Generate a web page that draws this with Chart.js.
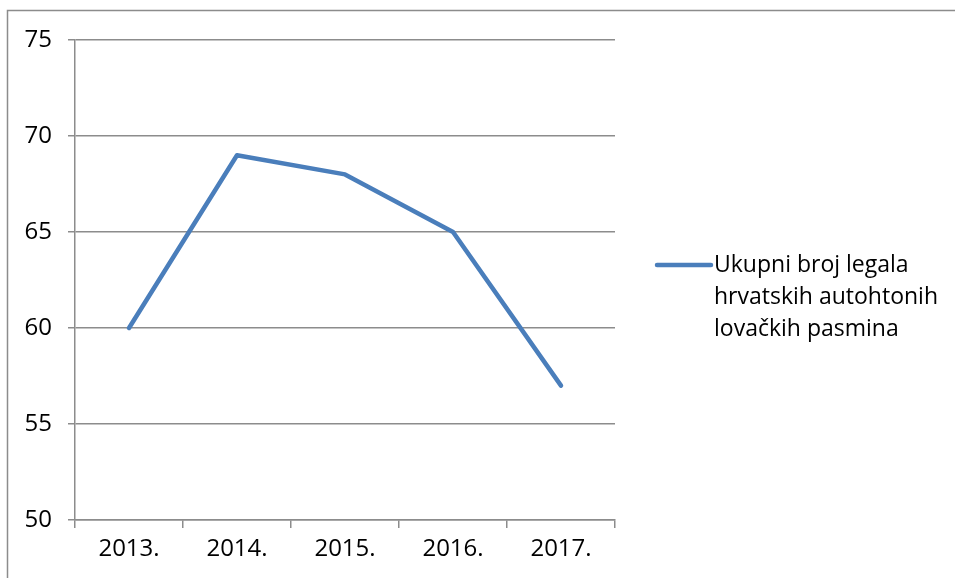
<!DOCTYPE html>
<html>
<head>
<meta charset="utf-8">
<script src="https://cdn.jsdelivr.net/npm/chart.js@4/dist/chart.umd.min.js"></script>
<style>
  html, body { margin: 0; padding: 0; background: #fff; }
  #wrap { width: 955px; height: 578px; }
</style>
</head>
<body>
<div id="wrap"><canvas id="myChart" width="955" height="578"></canvas></div>
<script>
var years = ['2013.', '2014.', '2015.', '2016.', '2017.'];
var litters = [60, 69, 68, 65, 57];
var seriesName = ['Ukupni broj legala', 'hrvatskih autohtonih', 'lovačkih pasmina'];
var yTicks = [50, 55, 60, 65, 70, 75];

var gray = '#8c8c8c';
var blue = '#4a7ebb';
var font = '"Open Sans", "Noto Sans", sans-serif';

// frame around the chart + legend drawn beside the plot
var extras = {
  id: 'extras',
  beforeDraw: function(chart) {
    var ctx = chart.ctx;
    ctx.save();
    ctx.strokeStyle = gray;
    ctx.lineWidth = 1.5;
    ctx.strokeRect(7.5, 10.5, 1200, 1200);
    ctx.restore();
  },
  afterDraw: function(chart) {
    var ctx = chart.ctx;
    ctx.save();
    ctx.strokeStyle = blue;
    ctx.lineWidth = 4.5;
    ctx.lineCap = 'round';
    ctx.beginPath();
    ctx.moveTo(657, 265);
    ctx.lineTo(711, 265);
    ctx.stroke();
    ctx.fillStyle = '#000';
    ctx.font = '23px ' + font;
    ctx.textBaseline = 'middle';
    for (var i = 0; i < seriesName.length; i++) {
      ctx.fillText(seriesName[i], 714, 265 + i * 32);
    }
    ctx.restore();
  }
};

var ctx = document.getElementById('myChart').getContext('2d');
var myChart = new Chart(ctx, {
  type: 'line',
  data: {
    labels: years,
    datasets: [{
      label: seriesName.join(' '),
      data: litters,
      borderColor: blue,
      borderWidth: 4.5,
      pointRadius: 0,
      tension: 0,
      borderCapStyle: 'round',
      borderJoinStyle: 'round'
    }]
  },
  options: {
    responsive: false,
    animation: false,
    layout: { padding: { top: 40, right: 340, left: 0, bottom: 0 } },
    plugins: { legend: { display: false }, tooltip: { enabled: false } },
    scales: {
      x: {
        offset: true,
        grid: { display: true, drawOnChartArea: false, offset: true, color: gray, lineWidth: 1.5, tickLength: 8 },
        border: { display: true, color: gray, width: 1.5 },
        ticks: { color: '#000', font: { family: font, size: 24 }, padding: 7 },
        afterFit: function(s) { s.height = 58; }
      },
      y: {
        min: 50,
        max: 75,
        afterBuildTicks: function(s) { s.ticks = yTicks.map(function(v) { return { value: v }; }); },
        grid: { color: gray, lineWidth: 1.5, tickLength: 7 },
        border: { display: true, color: gray, width: 1.5 },
        ticks: { color: '#000', font: { family: font, size: 24 }, padding: 16 },
        afterFit: function(s) { s.width = 75; }
      }
    }
  },
  plugins: [extras]
});
</script>
</body>
</html>
